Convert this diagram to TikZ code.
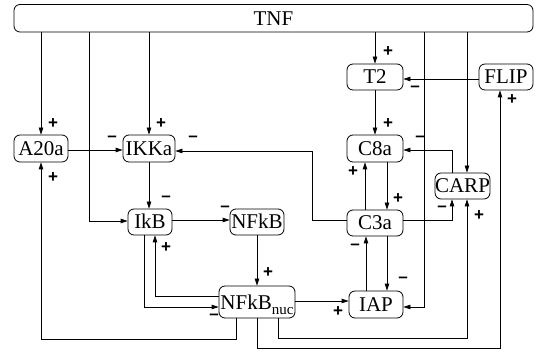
\documentclass[tikz,border=0pt]{standalone}
\usepackage{fontspec}
\setmainfont{Liberation Serif}
\newfontfamily\labfont{Liberation Sans}
\usetikzlibrary{arrows.meta,calc}
\begin{document}
\begin{tikzpicture}[x=1pt,y=-1pt,
  box/.style={draw, rounded corners=6pt, inner sep=0pt, line width=0.8pt,
    text height=14pt, text depth=0pt, font=\fontsize{21}{24}\selectfont},
  arr/.style={-{Triangle[length=7pt,width=4.5pt]}, line width=0.8pt},
  lab/.style={inner sep=0pt, font=\labfont\bfseries\fontsize{17}{20}\selectfont}]
\useasboundingbox (0,0) rectangle (541,358);
% nodes
\node[box, minimum width=519pt, minimum height=27.5pt] (TNF) at (273.5,18.25) {TNF};
\node[box, minimum width=56pt, minimum height=26pt] (T2) at (375,77) {T2};
\node[box, minimum width=54pt, minimum height=26pt] (FLIP) at (506,77) {FLIP};
\node[box, minimum width=54pt, minimum height=27pt] (A20a) at (41,148.5) {A20a};
\node[box, minimum width=52pt, minimum height=27pt] (IKKa) at (149,148.5) {IKKa};
\node[box, minimum width=56pt, minimum height=27pt] (C8a) at (375,148.5) {C8a};
\node[box, minimum width=53pt, minimum height=26pt] (CARP) at (462.5,186) {CARP};
\node[box, minimum width=44pt, minimum height=26pt] (IkB) at (150,222) {IkB};
\node[box, minimum width=54pt, minimum height=26pt] (NFkB) at (257,222) {NFkB};
\node[box, minimum width=56pt, minimum height=26pt] (C3a) at (375,223) {C3a};
\node[box, minimum width=76pt, minimum height=32pt] (NFkBn) at (257,302)
  {NFkB\smash{\raisebox{-5pt}{\fontsize{15}{18}\selectfont nuc}}};
\node[box, minimum width=54pt, minimum height=27pt] (IAP) at (376,304.5) {IAP};
% helper coordinates
\coordinate (c2) at (89,221);
\coordinate (c5) at (424,307);
\coordinate (c6) at (467,0);
\coordinate (c7) at (0,79);
\coordinate (c9) at (0,150);
\coordinate (c10) at (312,220);
\coordinate (c10b) at (312,151);
\coordinate (c12) at (0,220);
\coordinate (c14) at (144,307);
\coordinate (c15) at (155,296);
\coordinate (c16) at (236,339);
\coordinate (c17) at (257,348);
\coordinate (c17b) at (500,348);
\coordinate (c18) at (278,338);
\coordinate (c18b) at (467,338);
\coordinate (c19) at (0,301);
\coordinate (c20) at (365,0);
\coordinate (c21) at (387,0);
\coordinate (c22) at (366,0);
\coordinate (c24) at (452,150);
\coordinate (c25) at (452,220);
% connectors
\draw[arr] (A20a |- TNF.south) -- (A20a.north);
\draw[arr] (c2 |- TNF.south) -- (c2) -- (IkB.west |- c2);
\draw[arr] (IKKa |- TNF.south) -- (IKKa.north);
\draw[arr] (T2 |- TNF.south) -- (T2.north);
\draw[arr] (c5 |- TNF.south) -- (c5) -- (IAP.east |- c5);
\draw[arr] (c6 |- TNF.south) -- (c6 |- CARP.north);
\draw[arr] (FLIP.west |- c7) -- (T2.east |- c7);
\draw[arr] (T2.south) -- (C8a.north);
\draw[arr] (A20a.east |- c9) -- (IKKa.west |- c9);
\draw[arr] (C3a.west |- c10) -- (c10) -- (c10b) -- (IKKa.east |- c10b);
\draw[arr] (IKKa.south) -- (IKKa.south |- IkB.north);
\draw[arr] (IkB.east |- c12) -- (NFkB.west |- c12);
\draw[arr] (NFkB.south) -- (NFkBn.north);
\draw[arr] (c14 |- IkB.south) -- (c14) -- (NFkBn.west |- c14);
\draw[arr] (NFkBn.west |- c15) -- (c15) -- (c15 |- IkB.south);
\draw[arr] (c16 |- NFkBn.south) -- (c16) -- (A20a |- c16) -- (A20a.south);
\draw[arr] (c17 |- NFkBn.south) -- (c17) -- (c17b) -- (c17b |- FLIP.south);
\draw[arr] (c18 |- NFkBn.south) -- (c18) -- (c18b) -- (c18b |- CARP.south);
\draw[arr] (NFkBn.east |- c19) -- (IAP.west |- c19);
\draw[arr] (c20 |- C3a.north) -- (c20 |- C8a.south);
\draw[arr] (c21 |- C8a.south) -- (c21 |- C3a.north);
\draw[arr] (c22 |- IAP.north) -- (c22 |- C3a.south);
\draw[arr] (c21 |- C3a.south) -- (c21 |- IAP.north);
\draw[arr] (c24 |- CARP.north) -- (c24) -- (C8a.east |- c24);
\draw[arr] (C3a.east |- c25) -- (c25) -- (c25 |- CARP.south);
% labels
\node[lab] (l1) at (53,124) {+};
\node[lab] (l3) at (161,124) {+};
\node[lab] (l4) at (388,52) {+};
\node[lab] (l7) at (415,89) {\textendash};
\node[lab] (l8) at (388,124) {+};
\node[lab] (l9) at (112,139) {\textendash};
\node[lab] (l10) at (193,139) {\textendash};
\node[lab] (l11) at (166,199) {\textendash};
\node[lab] (l12) at (225,209) {\textendash};
\node[lab] (l13) at (268,273) {+};
\node[lab] (l14) at (214,317) {\textendash};
\node[lab] (l15) at (166,248) {+};
\node[lab] (l16) at (53,178) {+};
\node[lab] (l17) at (512,100) {+};
\node[lab] (l18) at (479,216) {+};
\node[lab] (l19) at (338,312) {+};
\node[lab] (l20) at (353,172) {+};
\node[lab] (l21) at (398,199) {+};
\node[lab] (l22) at (355,247) {\textendash};
\node[lab] (l23) at (403,280) {\textendash};
\node[lab] (l24) at (420,139) {\textendash};
\node[lab] (l25) at (442,209) {\textendash};
\end{tikzpicture}
\end{document}
